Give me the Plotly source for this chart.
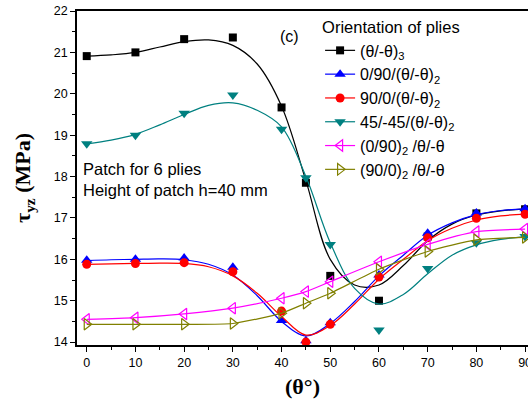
import plotly.graph_objects as go

theta = [0, 10, 20, 30, 40, 45, 50, 60, 70, 80, 90]
s_black = [20.91, 21.0, 21.32, 21.36, 19.67, 17.85, 15.6, 15.0, 16.55, 17.11, 17.21]
s_blue = [15.98, 16.0, 16.03, 15.81, 14.52, 14.03, 14.47, 15.62, 16.63, 17.12, 17.22]
s_red = [15.88, 15.9, 15.92, 15.7, 14.75, 14.0, 14.43, 15.57, 16.52, 16.99, 17.09]
s_teal = [18.79, 19.0, 19.53, 19.97, 19.14, 17.97, 16.36, 14.29, 15.78, 16.4, 16.55]
s_pink = [14.55, 14.59, 14.68, 14.82, 15.06, 15.22, 15.46, 15.94, 16.36, 16.67, 16.73]
s_olive = [14.43, 14.43, 14.43, 14.45, 14.7, 14.94, 15.18, 15.76, 16.19, 16.47, 16.53]

# smooth fitted curves
curve_x = [0, 5, 10, 15, 20, 25, 30, 35, 40, 45, 50, 55, 60, 65, 70, 75, 80, 85, 90]
fit_black = [20.91, 20.94, 21.0, 21.13, 21.26, 21.3, 21.17, 20.72, 19.7, 17.9, 16.0, 15.38, 15.38, 15.85, 16.45, 16.85, 17.07, 17.17, 17.22]
fit_blue = [15.97, 15.99, 16.0, 16.01, 15.99, 15.88, 15.62, 15.12, 14.5, 14.15, 14.45, 14.98, 15.6, 16.1, 16.58, 16.88, 17.08, 17.18, 17.22]
fit_red = [15.88, 15.89, 15.9, 15.91, 15.9, 15.82, 15.6, 15.18, 14.62, 14.17, 14.4, 14.92, 15.52, 16.0, 16.45, 16.75, 16.95, 17.05, 17.09]
fit_teal = [18.79, 18.88, 19.02, 19.25, 19.5, 19.72, 19.78, 19.6, 19.2, 18.0, 16.4, 15.3, 14.92, 15.15, 15.65, 16.1, 16.35, 16.48, 16.55]

names = ["(θ/-θ)<sub>3</sub>", "0/90/(θ/-θ)<sub>2</sub>", "90/0/(θ/-θ)<sub>2</sub>",
         "45/-45/(θ/-θ)<sub>2</sub>", "(0/90)<sub>2</sub> /θ/-θ", "(90/0)<sub>2</sub> /θ/-θ"]

SANS = "Liberation Sans, Arial"
SERIF = "Liberation Serif, Times New Roman"

fig = go.Figure()

fitted = [
    (s_black, fit_black, "#000000", "square", 8, names[0]),
    (s_blue, fit_blue, "#0000FF", "triangle-up", 10, names[1]),
    (s_red, fit_red, "#FF0000", "circle", 9, names[2]),
    (s_teal, fit_teal, "#008080", "triangle-down", 10, names[3]),
]
for i, (pts, fit, col, sym, sz, nm) in enumerate(fitted):
    fig.add_trace(go.Scatter(x=curve_x, y=fit, mode="lines", line=dict(color=col, width=1.2, shape="spline", smoothing=1.0),
                             showlegend=False, hoverinfo="skip", legendgroup=f"g{i}"))
    fig.add_trace(go.Scatter(x=theta, y=pts, mode="markers", marker=dict(color=col, symbol=sym, size=sz),
                             showlegend=False, legendgroup=f"g{i}"))
    fig.add_trace(go.Scatter(x=[None], y=[None], mode="lines+markers", name=nm, legendgroup=f"g{i}",
                             line=dict(color=col, width=1.2), marker=dict(color=col, symbol=sym, size=sz)))

fig.add_trace(go.Scatter(x=theta, y=s_pink, mode="lines+markers", name=names[4], legendgroup="g4",
                         line=dict(color="#FF00FF", width=1.2, shape="spline", smoothing=0.6),
                         marker=dict(color="#FF00FF", symbol="triangle-left-open", size=10, line=dict(width=1.2))))
fig.add_trace(go.Scatter(x=theta, y=s_olive, mode="lines+markers", name=names[5], legendgroup="g5",
                         line=dict(color="#808000", width=1.2, shape="spline", smoothing=0.6),
                         marker=dict(color="#808000", symbol="triangle-right-open", size=10, line=dict(width=1.2))))

fig.add_annotation(x=0.472, y=0.925, xref="paper", yref="paper", text="(c)", showarrow=False,
                   font=dict(family=SANS, size=16, color="black"), xanchor="center", yanchor="middle")
fig.add_annotation(x=0.008, y=0.497, xref="paper", yref="paper",
                   text="Patch for 6 plies<br>Height of patch h=40 mm", showarrow=False, align="left",
                   font=dict(family=SANS, size=16.5, color="black"), xanchor="left", yanchor="middle")

fig.update_layout(
    width=528, height=403,
    margin=dict(l=77, r=0, t=11, b=58),
    paper_bgcolor="white", plot_bgcolor="white",
    font=dict(family=SANS, size=12, color="black"),
    legend=dict(x=0.539, y=0.997, xanchor="left", yanchor="top", bgcolor="rgba(0,0,0,0)",
                font=dict(family=SANS, size=16, color="black"),
                title=dict(text="Orientation of plies", font=dict(family=SANS, size=16.5)),
                tracegroupgap=2, traceorder="normal"),
    xaxis=dict(range=[-2, 90.6], tickvals=[0, 10, 20, 30, 40, 50, 60, 70, 80, 90], ticks="outside", ticklen=5,
               tickwidth=1.2, tickcolor="black", showline=True, linecolor="black", linewidth=1.5, mirror=True,
               showgrid=False, zeroline=False, tickfont=dict(size=12.5), automargin=False, ticklabeloverflow="allow",
               minor=dict(tickvals=[5, 15, 25, 35, 45, 55, 65, 75, 85], ticks="outside", ticklen=3, tickcolor="black", tickwidth=1),
               title=dict(text="<b>(θ°)</b>", font=dict(family=SERIF, size=22), standoff=10)),
    yaxis=dict(range=[13.93, 22], tickvals=[14, 15, 16, 17, 18, 19, 20, 21, 22], ticks="outside", ticklen=5,
               tickwidth=1.2, tickcolor="black", showline=True, linecolor="black", linewidth=1.5, mirror=False,
               showgrid=False, zeroline=False, tickfont=dict(size=12.5), automargin=False,
               minor=dict(tickvals=[14.5, 15.5, 16.5, 17.5, 18.5, 19.5, 20.5, 21.5], ticks="outside", ticklen=3, tickcolor="black", tickwidth=1),
               title=dict(text="<b>τ<sub>yz</sub> (MPa)</b>", font=dict(family=SERIF, size=22), standoff=17)),
)

fig.write_html("out.html", config={"displayModeBar": False},
               post_script="document.body.style.margin='0';document.body.style.overflow='hidden';")
